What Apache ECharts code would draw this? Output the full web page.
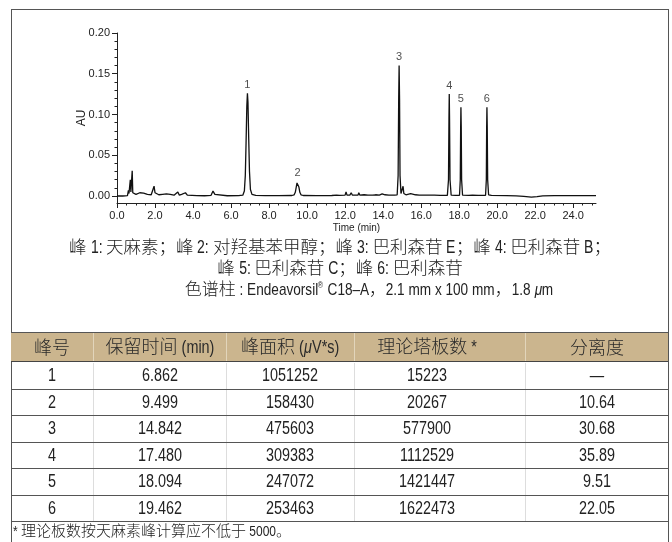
<!DOCTYPE html>
<html><head><meta charset="utf-8">
<script src="https://cdn.jsdelivr.net/npm/echarts@6/dist/echarts.min.js"></script>
<style>
html,body{margin:0;padding:0;background:#fff;}
#wrap{position:relative;width:672px;height:542px;overflow:hidden;font-family:"Noto Sans CJK SC","Liberation Sans",sans-serif;color:#222;}
#chart{position:absolute;left:0;top:0;width:672px;height:542px;}
#frame{position:absolute;left:11px;top:9px;width:658px;height:545px;border:1px solid #555;box-sizing:border-box;pointer-events:none;}
.t{position:absolute;white-space:nowrap;transform:translate(-50%,-50%);line-height:1.2;font-weight:300;}
.n{display:inline-block;font-family:"Liberation Sans",sans-serif;font-weight:400;transform:scaleX(0.8);transform-origin:0 50%;white-space:pre;}
.leg{font-size:17.5px;color:#222;}
.leg3{font-size:17px;color:#222;}
.hdr{position:absolute;left:11px;top:332px;width:657px;height:30px;background:#cbb58e;border-top:1px solid #555;border-bottom:1.5px solid #444;box-sizing:border-box;}
.hl{position:absolute;left:11px;width:657px;height:0;border-top:1px solid #555;}
.vl{position:absolute;width:0;border-left:1px solid #ddd;}
.vlh{position:absolute;width:0;border-left:1px solid #e2d5bb;}
.cell{font-size:18px;}
.hcell{font-size:18px;color:#2a2a2a;}
.foot{position:absolute;left:13px;top:530px;transform:translateY(-50%);font-size:15px;white-space:nowrap;line-height:1.2;font-weight:300;}
</style></head>
<body>
<div id="wrap">
<div id="chart"></div>
<div id="frame"></div>
<div id="texts"></div>
</div>
<script>
// ---- chromatogram data (time in min, absorbance in AU) ----
const trace = [
[0.00,0.0000],[0.30,0.0000],[0.55,0.0005],[0.60,0.0070],[0.63,0.0030],[0.67,0.0040],[0.70,0.0200],[0.73,0.0050],
[0.77,0.0060],[0.80,0.0310],[0.83,0.0040],[0.90,0.0025],[1.00,0.0020],[1.10,0.0030],[1.20,0.0040],[1.30,0.0030],
[1.40,0.0035],[1.50,0.0020],[1.60,0.0020],[1.70,0.0015],[1.80,0.0015],[1.90,0.0020],[1.95,0.0120],[2.00,0.0040],
[2.10,0.0020],[2.20,0.0015],[2.30,0.0030],[2.40,0.0020],[2.50,0.0020],[2.60,0.0025],[2.70,0.0020],[2.80,0.0020],
[2.90,0.0010],[3.00,0.0010],[3.10,0.0020],[3.20,0.0050],[3.28,0.0010],[3.40,0.0020],[3.50,0.0040],[3.60,0.0040],
[3.70,0.0010],[3.80,0.0005],[4.20,0.0005],[4.60,0.0003],[4.95,0.0008],[5.05,0.0060],[5.15,0.0020],[5.25,0.0005],
[5.80,0.0003],[6.40,0.0004],[6.62,0.0010],[6.70,0.0060],[6.75,0.0250],[6.79,0.0650],[6.83,0.1100],[6.862,0.1260],
[6.89,0.1150],[6.93,0.0700],[6.97,0.0300],[7.02,0.0080],[7.10,0.0020],[7.30,0.0008],[7.80,0.0005],[8.50,0.0005],
[9.20,0.0006],[9.32,0.0015],[9.38,0.0045],[9.43,0.0110],[9.47,0.0160],[9.499,0.0175],[9.53,0.0160],[9.57,0.0110],
[9.62,0.0045],[9.68,0.0015],[9.80,0.0006],[10.50,0.0005],[11.30,0.0006],[11.55,0.0010],[11.62,0.0030],[11.70,0.0008],
[12.00,0.0010],[12.05,0.0050],[12.10,0.0010],[12.18,0.0025],[12.25,0.0010],[12.32,0.0040],[12.38,0.0012],[12.50,0.0010],
[12.68,0.0010],[12.72,0.0040],[12.78,0.0010],[13.00,0.0015],[13.20,0.0010],[13.30,0.0020],[13.45,0.0010],[13.60,0.0015],
[13.80,0.0010],[13.95,0.0025],[14.02,0.0040],[14.10,0.0015],[14.30,0.0010],[14.60,0.0010],[14.74,0.0015],[14.79,0.0250],
[14.82,0.1200],[14.842,0.1600],[14.865,0.1200],[14.89,0.0250],[14.94,0.0030],[15.00,0.0020],[15.05,0.0120],[15.09,0.0030],
[15.20,0.0015],[15.30,0.0010],[15.45,0.0030],[15.55,0.0025],[15.70,0.0015],[15.90,0.0010],[16.20,0.0010],[16.30,0.0020],
[16.40,0.0010],[16.55,0.0010],[16.62,0.0020],[16.70,0.0010],[17.00,0.0008],[17.38,0.0008],[17.44,0.0200],[17.465,0.0950],
[17.48,0.1250],[17.495,0.0950],[17.52,0.0200],[17.58,0.0010],[17.80,0.0008],[18.02,0.0008],[18.06,0.0200],[18.08,0.0850],
[18.094,0.1090],[18.11,0.0850],[18.13,0.0200],[18.18,0.0010],[18.50,0.0008],[18.70,0.0010],[19.00,0.0008],[19.39,0.0008],
[19.43,0.0200],[19.448,0.0850],[19.462,0.1090],[19.478,0.0850],[19.50,0.0200],[19.55,0.0015],[19.70,0.0008],[20.50,0.0005],
[21.00,0.0002],[21.40,-0.0005],[21.80,-0.0015],[22.10,-0.0008],[22.40,0.0002],[23.00,0.0004],[24.00,0.0005],[25.20,0.0005]
];
const peakNames = ['1','2','3','4','5','6'];
const peakTimes = [6.862, 9.499, 14.842, 17.480, 18.094, 19.462];
const peakHeights = [0.1260, 0.0175, 0.1600, 0.1250, 0.1090, 0.1090];

const xTicks = [0,2,4,6,8,10,12,14,16,18,20,22,24];
const xMinorTicks = [];
for (let i = 0; i <= 50; i++) xMinorTicks.push(i * 0.5);
const yTicks = [0, 0.05, 0.10, 0.15, 0.20];
const yMinorTicks = [];
for (let i = 0; i <= 20; i++) yMinorTicks.push(+(i * 0.01).toFixed(2));
const xMax = 25.2, yMin = -0.0086, yMax = 0.20;

// ---- caption & table ----
const captionLines = [
  '峰 1: 天麻素；峰 2: 对羟基苯甲醇；峰 3: 巴利森苷 E；峰 4: 巴利森苷 B；',
  '峰 5: 巴利森苷 C；峰 6: 巴利森苷',
  '色谱柱 : Endeavorsil<sup style="font-size:9px;vertical-align:7px">®</sup> C18–A，2.1 mm x 100 mm，1.8 <i>μ</i>m'
];
const tableHeader = ['峰号', '保留时间 (min)', '峰面积 (<i>μ</i>V*s)', '理论塔板数 *', '分离度'];
const peakNo = ['1','2','3','4','5','6'];
const retentionTime = ['6.862','9.499','14.842','17.480','18.094','19.462'];
const peakArea = ['1051252','158430','475603','309383','247072','253463'];
const plateNumber = ['15223','20267','577900','1112529','1421447','1622473'];
const resolution = ['—','10.64','30.68','35.89','9.51','22.05'];
const footnote = '* 理论板数按天麻素峰计算应不低于 5000。';

// ---- chart ----
const axisColor = '#222';
const chart = echarts.init(document.getElementById('chart'), null, {renderer:'canvas'});
chart.setOption({
  animation: false,
  grid: {left: 117, right: 76, top: 33, bottom: 339},
  xAxis: [{
    type: 'value', min: 0, max: xMax,
    axisLine: {onZero: false, lineStyle: {color: axisColor, width: 1}},
    axisTick: {customValues: xTicks, length: 5, lineStyle: {color: axisColor}},
    axisLabel: {customValues: xTicks, formatter: v => v.toFixed(1), fontSize: 11, color: '#222', margin: 7, fontFamily: 'Liberation Sans'},
    splitLine: {show: false},
    name: 'Time (min)', nameLocation: 'middle', nameGap: 20, nameMoveOverlap: false,
    nameTextStyle: {fontSize: 10, color: '#222', fontFamily: 'Liberation Sans'}
  }, {
    type: 'value', min: 0, max: xMax, position: 'bottom',
    axisLine: {show: false, onZero: false},
    axisTick: {customValues: xMinorTicks, length: 2.5, lineStyle: {color: axisColor}},
    axisLabel: {show: false}, splitLine: {show: false}
  }],
  yAxis: [{
    type: 'value', min: yMin, max: yMax,
    axisLine: {show: true, onZero: false, lineStyle: {color: axisColor, width: 1}},
    axisTick: {show: true, customValues: yTicks, length: 5, lineStyle: {color: axisColor}},
    axisLabel: {customValues: yTicks, formatter: v => v.toFixed(2), fontSize: 11, color: '#222', margin: 7, fontFamily: 'Liberation Sans'},
    splitLine: {show: false},
    name: 'AU', nameLocation: 'middle', nameGap: 29, nameMoveOverlap: false,
    nameTextStyle: {fontSize: 12, color: '#222', fontFamily: 'Liberation Sans'}
  }, {
    type: 'value', min: yMin, max: yMax, position: 'left',
    axisLine: {show: false, onZero: false},
    axisTick: {show: true, customValues: yMinorTicks, length: 2.5, lineStyle: {color: axisColor}},
    axisLabel: {show: false}, splitLine: {show: false}
  }],
  series: [{
    type: 'line', data: trace, showSymbol: false, symbol: 'none', clip: false,
    lineStyle: {color: '#111', width: 1.3}, xAxisIndex: 0, yAxisIndex: 0
  }, {
    type: 'scatter', symbolSize: 0, xAxisIndex: 0, yAxisIndex: 0,
    data: peakTimes.map((t, i) => [t, peakHeights[i], peakNames[i]]),
    label: {show: true, position: 'top', distance: 3, formatter: p => p.data[2], fontSize: 11, color: '#222', fontFamily: 'Liberation Sans'}
  }]
});

// ---- HTML text: caption and table ----
const T = document.getElementById('texts');
// wrap runs of Latin text in a horizontally condensed span (narrow Latin face)
function condense(el) {
  const walker = document.createTreeWalker(el, NodeFilter.SHOW_TEXT);
  const nodes = [];
  while (walker.nextNode()) nodes.push(walker.currentNode);
  nodes.forEach(node => {
    const parts = node.nodeValue.split(/([\u3000-\u9fff\uff00-\uffef]+)/);
    const frag = document.createDocumentFragment();
    parts.forEach(p => {
      if (!p) return;
      if (/[\u3000-\u9fff\uff00-\uffef]/.test(p)) frag.appendChild(document.createTextNode(p));
      else { const s = document.createElement('span'); s.className = 'n'; s.textContent = p; frag.appendChild(s); }
    });
    node.parentNode.replaceChild(frag, node);
  });
}
function txt(html, x, y, cls) {
  const d = document.createElement('div');
  d.className = 't ' + cls;
  d.style.left = x + 'px'; d.style.top = y + 'px';
  d.innerHTML = html;
  T.appendChild(d);
  condense(d);
  return d;
}
const capY = [246, 267, 289], capX = [340, 340, 369], capCls = ['leg', 'leg', 'leg3'];
captionLines.forEach((s, i) => txt(s, capX[i], capY[i], capCls[i]));

const hdr = document.createElement('div'); hdr.className = 'hdr'; T.appendChild(hdr);
const colX = [52, 160, 290, 427, 597];
const colSep = [93, 226, 354, 525];
colSep.forEach(x => {
  const a = document.createElement('div'); a.className = 'vlh';
  a.style.left = x + 'px'; a.style.top = '333px'; a.style.height = '28px'; T.appendChild(a);
  const b = document.createElement('div'); b.className = 'vl';
  b.style.left = x + 'px'; b.style.top = '363px'; b.style.height = '158px'; T.appendChild(b);
});
tableHeader.forEach((h, j) => txt(h, colX[j], 347, 'hcell'));
const rowTop = 362, rowH = 26.5;
const cols = [peakNo, retentionTime, peakArea, plateNumber, resolution];
for (let i = 0; i < peakNo.length; i++) {
  const yc = rowTop + rowH * (i + 0.5);
  cols.forEach((c, j) => txt(c[i], colX[j], yc, 'cell'));
  const l = document.createElement('div'); l.className = 'hl';
  l.style.top = (rowTop + rowH * (i + 1)) + 'px'; T.appendChild(l);
}
const f = document.createElement('div'); f.className = 'foot'; f.textContent = footnote; T.appendChild(f);
condense(f);
// condensed spans: shrink their layout width to match the visual width
document.querySelectorAll('.n').forEach(s => {
  const w = s.getBoundingClientRect().width / 0.8;
  s.style.marginRight = (-0.2 * w) + 'px';
});
</script>
</body></html>
